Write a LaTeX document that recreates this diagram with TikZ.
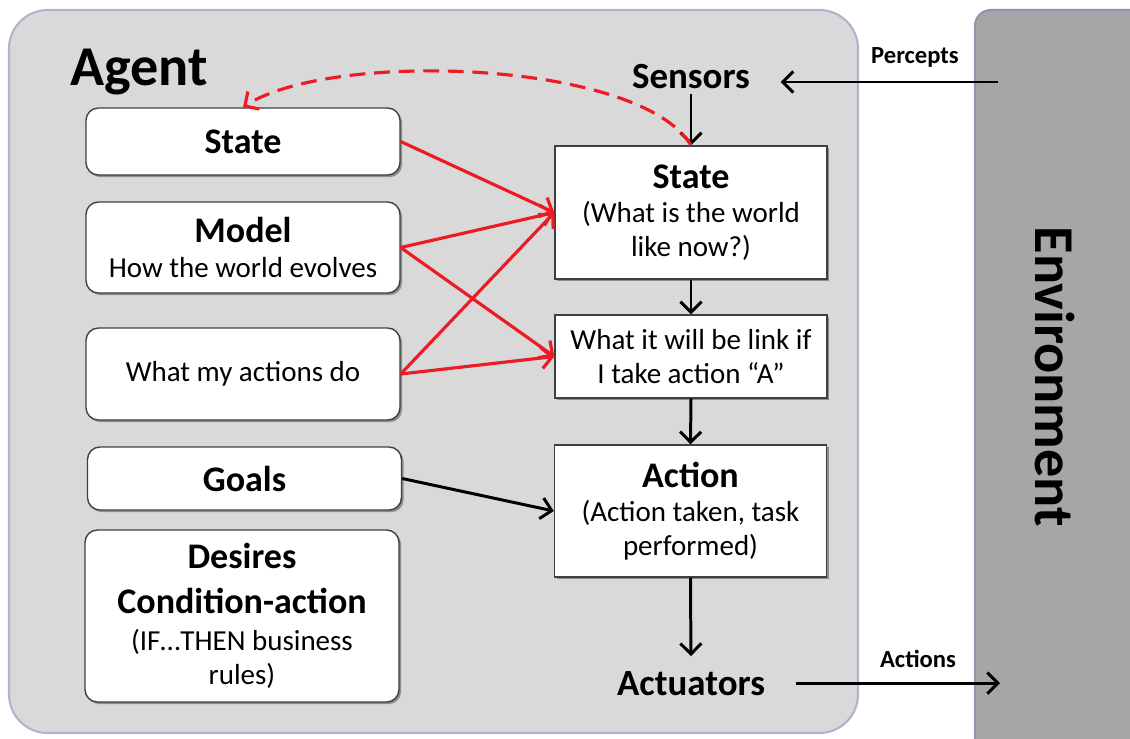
\documentclass[tikz,border=0pt]{standalone}
\usepackage{fontspec}
\setmainfont{Carlito}
\usetikzlibrary{arrows.meta,shadows}

\definecolor{agentfill}{RGB}{217,217,217}
\definecolor{agentline}{RGB}{172,182,202}
\definecolor{envfill}{RGB}{166,166,166}
\definecolor{envline}{RGB}{140,150,172}
\definecolor{linkred}{RGB}{237,28,36}

\newcommand{\boxhead}{\fontsize{20.5}{25}\selectfont\bfseries}
\newcommand{\boxtext}{\fontsize{16.5}{19.5}\selectfont}

\tikzset{
  box/.style={draw=black!75, fill=white, line width=0.8pt, align=center, inner sep=0pt,
    font=\boxtext,
    drop shadow={shadow xshift=1.2pt, shadow yshift=-1.2pt, opacity=0.35, fill=black}},
  memory/.style={box, rounded corners=7pt, minimum width=6.28cm},
  stage/.style={box, minimum width=5.44cm},
  flow/.style={-{Straight Barb[length=6pt,width=12pt]}, line width=1.7pt},
  update/.style={flow, draw=linkred, line width=1.8pt},
}

\begin{document}
\begin{tikzpicture}[x=0.02cm, y=-0.02cm]
        \useasboundingbox (0,0) rectangle (1130,738);
        % Draw the agent and environment panels
        \filldraw[fill=agentfill, draw=agentline, line width=1.2pt, rounded corners=22pt]
        (9,10) rectangle (858,733);
        \begin{scope}
          \clip (0,0) rectangle (1130,738);
          \filldraw[fill=envfill, draw=envline, line width=1.2pt, rounded corners=9pt]
          (975,10) rectangle (1160,770);
        \end{scope}
        % Draw the free labels
        \node[anchor=base west, font=\fontsize{32}{36}\selectfont\bfseries] (agent) at (64,85) {Agent};
        \node[anchor=base, font=\fontsize{21}{25}\selectfont\bfseries] (sensors) at (691,88) {Sensors};
        \node[anchor=base, font=\fontsize{21}{25}\selectfont\bfseries] (actuators) at (691,695) {Actuators};
        \node[anchor=base, font=\fontsize{14}{17}\selectfont\bfseries] (percepts) at (915,63) {Percepts};
        \node[anchor=base, font=\fontsize{14}{17}\selectfont\bfseries] (actions) at (918,667) {Actions};
        \node[rotate=-90, font=\fontsize{32}{38}\selectfont\bfseries] (environment) at (1055,377) {Environment};
        % Draw the knowledge boxes
        \node[memory, minimum height=1.34cm] (stateL) at (243,141.5) {{\boxhead State}};
        \node[memory, minimum height=1.82cm] (model) at (243,247.5)
          {{\boxhead Model}\\How the world evolves};
        \node[memory, minimum height=1.84cm] (doL) at (243,374) {What my actions do};
        \node[memory, minimum height=1.26cm] (goals) at (244.5,478.5) {{\boxhead Goals}};
        \node[memory, minimum height=3.44cm] (desires) at (242,616)
          {{\boxhead Desires}\\[6pt]{\boxhead Condition-action}\\[1.5pt](IF…THEN business\\rules)};
        % Draw the decision chain
        \node[stage, minimum height=2.66cm] (stateR) at (691,212.5)
          {{\boxhead State}\\(What is the world\\like now?)};
        \node[stage, minimum height=1.66cm] (predict) at (691,356.5)
          {What it will be link if\\I take action “A”};
        \node[stage, minimum height=2.64cm] (action) at (690.5,511)
          {{\boxhead Action}\\(Action taken, task\\performed)};
        % Draw the connectors
        \coordinate (perceptsin) at (998,82);
        \coordinate (actionsout) at (1000,685);
        \draw[flow, shorten >=14pt] (perceptsin) -- (perceptsin -| sensors.east);
        \draw[flow, shorten <=14pt] (actuators.east) -- (actuators.east -| actionsout);
        \foreach \src/\dst in {sensors/stateR, stateR/predict, predict/action}
        \draw[flow] (\src.south) -- (\dst.north);
        \draw[flow, shorten >=5pt] (action.south) -- (actuators.north);
        \draw[flow] (goals.east) -- (action.west);
        \foreach \src/\dst in {stateL/stateR, model/stateR, model/predict, doL/stateR, doL/predict}
        \draw[update] (\src.east) -- (\dst.west);
        \draw[update, dash pattern=on 9pt off 5pt] (stateR.north)
        .. controls (640,60) and (330,50) .. (stateL.north);
\end{tikzpicture}
\end{document}
